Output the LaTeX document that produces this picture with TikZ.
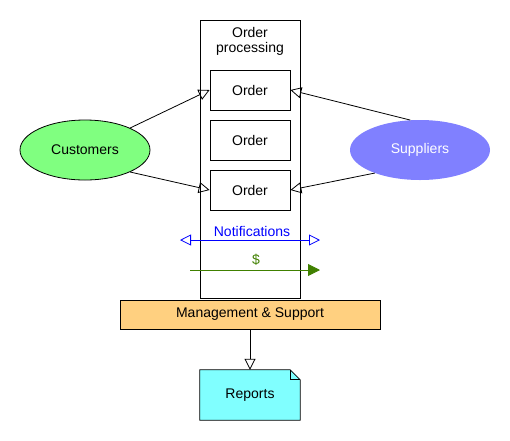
\documentclass[tikz,border=0pt]{standalone}
\usepackage{fontspec}
\setmainfont{Liberation Sans}
\usetikzlibrary{shapes.geometric,arrows.meta}
\definecolor{custgreen}{HTML}{80FF80}
\definecolor{suppblue}{HTML}{8080FF}
\definecolor{mgmtorange}{HTML}{FFD080}
\definecolor{repcyan}{HTML}{80FFFF}
\definecolor{moneygreen}{HTML}{408000}
\tikzset{
    box/.style={draw, line width=0.8pt, inner sep=0pt},
    orderbox/.style={box, fill=white, minimum width=80pt, minimum height=40pt},
    flow/.style={line width=0.8pt, -{Triangle[open, length=11pt, width=11pt]}}
}
\begin{document}
\begin{tikzpicture}[x=1pt, y=-1pt, font=\fontsize{14}{15}\selectfont]
    \useasboundingbox (0,0) rectangle (510,440);

    % order processing column
    \node[box, minimum width=100pt, minimum height=278pt] (proc) at (250,159) {};
    \node[align=center] (proctitle) at (250,41) {Order\\processing};
    \foreach \y/\n in {90/1, 140/2, 190/3}
        \node[orderbox] (order\n) at (250,\y) {Order};

    % partners
    \node[ellipse, draw, line width=0.8pt, fill=custgreen, minimum width=130pt, minimum height=60pt] (cust) at (85,150) {Customers};
    \node[ellipse, fill=suppblue, text=white, minimum width=140pt, minimum height=60pt] (supp) at (420,150) {Suppliers};

    \draw[flow] (cust.26) -- (order1.west);
    \draw[flow] (cust.-26) -- (order3.west);
    \draw[flow] (supp.108) -- (order1.east);
    \draw[flow] (supp.207) -- (order3.east);

    % notifications and money
    \coordinate (notleft) at (180,240);
    \coordinate (notright) at (320,240);
    \draw[blue, line width=0.8pt, {Triangle[open, length=11pt, width=11pt]}-{Triangle[open, length=11pt, width=11pt]}] (notleft) -- (notright);
    \node[blue] (nottext) at (252,231) {Notifications};

    \coordinate (payleft) at (190,270);
    \coordinate (payright) at (320,270);
    \draw[moneygreen, line width=0.8pt, -{Triangle[length=12pt, width=12pt]}] (payleft) -- (payright);
    \node[moneygreen] (paytext) at (256,260) {\$};

    % management and reports
    \node[box, fill=mgmtorange, minimum width=260pt, minimum height=29pt] (mgmt) at (250,314.5) {Management \& Support};
    \node[minimum width=100pt, minimum height=50pt, inner sep=0pt] (reports) at (250,395) {};
    \draw[line width=0.8pt, fill=repcyan] (reports.north west) -- ([xshift=-10pt]reports.north east)
        -- ([yshift=-10pt]reports.north east) -- (reports.south east) -- (reports.south west) -- cycle;
    \draw[line width=0.8pt] ([xshift=-10pt]reports.north east) -- ([xshift=-10pt, yshift=-10pt]reports.north east) -- ([yshift=-10pt]reports.north east);
    \node (reptext) at (reports) {Reports};

    \draw[flow] (mgmt.south) -- (reports.north);
\end{tikzpicture}
\end{document}
